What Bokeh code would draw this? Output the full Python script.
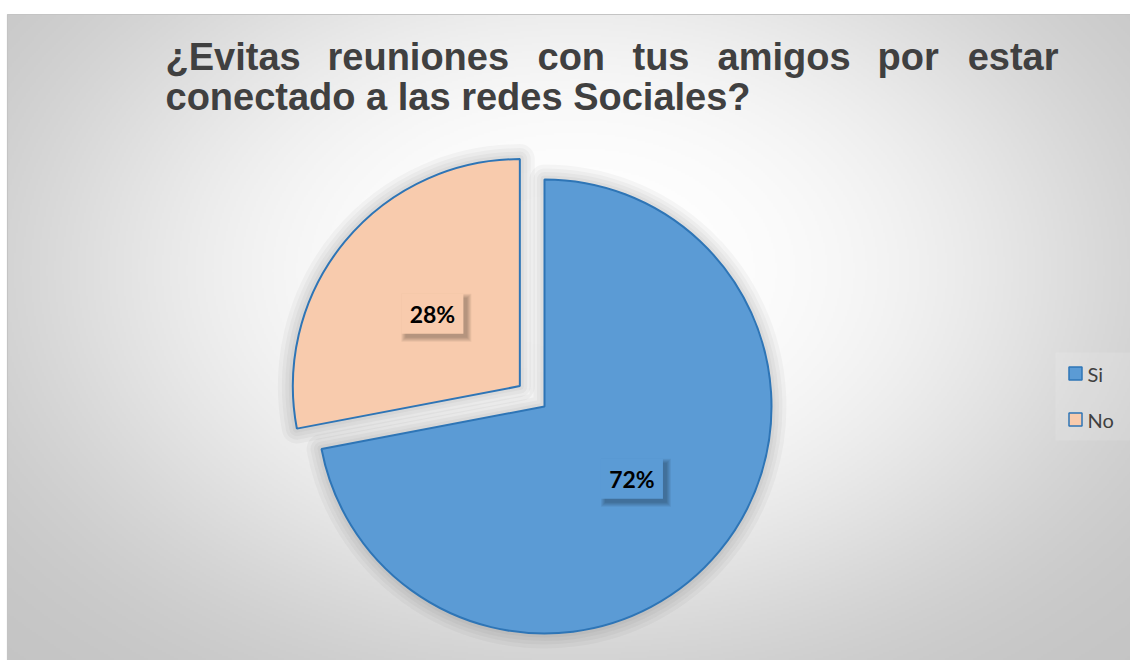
import numpy as np
from bokeh.plotting import figure
from bokeh.models import Range1d, ColumnDataSource
from bokeh.core.properties import value
from bokeh.embed import file_html
from bokeh.resources import INLINE

# ---------------- data ----------------
categories = ["Si", "No"]
values = [72, 28]
colors = ["#5B9BD5", "#F8CBAD"]
title_line1_words = ["¿Evitas", "reuniones", "con", "tus", "amigos", "por", "estar"]
title_line2 = "conectado a las redes Sociales?"

# ---------------- layout (screen px of the 1130x660 page) ----------------
W, H = 1130, 660
def Y(s):
    return 660 - s

p = figure(width=W, height=H, x_range=Range1d(0, W), y_range=Range1d(0, H),
           output_backend="svg", toolbar_location=None, min_border=0)
p.axis.visible = False
p.grid.visible = False
p.outline_line_color = None
p.background_fill_color = "white"
p.border_fill_color = "white"

# background radial gradient (chart area)
x0s, y0s, x1s, y1s = 7, 14, 1130, 660
step = 2
nx = (x1s - x0s) // step + 1
ny = (y1s - y0s) // step
xs = x0s + (np.arange(nx) + 0.5) * step
ys = y1s - (np.arange(ny) + 0.5) * step  # row 0 at bottom
XX, YY = np.meshgrid(xs, ys)
cxg, cyg, hx, hy = 575.0, 270.0, 570.0, 390.0
t = np.sqrt(((XX - cxg) / hx) ** 2 + ((YY - cyg) / hy) ** 2)
g = 255 - 60 * np.tanh(0.9 * t ** 2.5)
img = np.empty((ny, nx), dtype=np.uint32)
view = img.view(dtype=np.uint8).reshape((ny, nx, 4))
view[..., 0] = g.astype(np.uint8)
view[..., 1] = g.astype(np.uint8)
view[..., 2] = g.astype(np.uint8)
view[..., 3] = 255
p.image_rgba(image=[img], x=x0s, y=Y(y1s), dw=nx * step, dh=ny * step)
# chart border (left & top)
p.line([x0s, x0s, 1140], [Y(670), Y(y0s), Y(y0s)], line_color="#c4c4c4", line_width=1.2)

# ---------------- pie ----------------
vals = np.array(values, dtype=float)
frac = vals / vals.sum()
cum = np.cumsum(frac)
prev = cum - frac
a_start = np.pi / 2 - 2 * np.pi * prev
a_end = np.pi / 2 - 2 * np.pi * cum
bis = (a_start + a_end) / 2
explode = np.array([0.0, 32.0])
R = 227
pcx, pcy = 544, Y(406)
cxs = pcx + explode * np.cos(bis)
cys = pcy + explode * np.sin(bis)
labels = [f"{f * 100:.0f}%" for f in frac]
lx = cxs + 0.5 * R * np.cos(bis)
ly = cys + 0.5 * R * np.sin(bis)

src = ColumnDataSource(dict(x=cxs, y=cys, sa=a_start, ea=a_end, color=colors,
                            cat=categories, lx=lx, ly=ly, label=labels))

# soft shadow halo
for lw in [30, 22, 15, 8]:
    p.wedge(x="x", y="y", radius=R, start_angle="sa", end_angle="ea", direction="clock",
            source=src, fill_alpha=0, line_color="black", line_alpha=0.032,
            line_width=lw, line_join="round")

p.wedge(x="x", y="y", radius=R, start_angle="sa", end_angle="ea", direction="clock",
        source=src, fill_color="color", line_color="#2E75B6", line_width=2)

# data label boxes with soft shadow
bw, bh = 62, 40
for k in [8, 6, 4, 2, 0]:
    p.rect(x=lx + 4, y=ly - 4, width=bw + k, height=bh + k, fill_color="black",
           fill_alpha=0.06, line_color=None)
p.rect(x="lx", y="ly", width=bw, height=bh, source=src, fill_color="color", line_color=None)
p.text(x="lx", y="ly", text="label", source=src, text_align="center", text_baseline="middle",
       text_font=value("Lato"), text_font_style="bold", text_font_size="23px", text_color="black")

# ---------------- title ----------------
title_color = "#404040"
line1_x = [165, 327, 537, 632, 717, 877]
base1, base2 = Y(56), Y(96)
p.text(x=line1_x, y=[base1] * len(line1_x), text=title_line1_words[:-1], text_align="left",
       text_baseline="alphabetic", text_font=value("Liberation Sans"), text_font_style="bold",
       text_font_size="38px", text_color=title_color)
p.text(x=[1058], y=[base1], text=title_line1_words[-1:], text_align="right",
       text_baseline="alphabetic", text_font=value("Liberation Sans"), text_font_style="bold",
       text_font_size="38px", text_color=title_color)
p.text(x=[165], y=[base2], text=[title_line2], text_align="left", text_baseline="alphabetic",
       text_font=value("Liberation Sans"), text_font_style="bold", text_font_size="38px",
       text_color=title_color)

# ---------------- legend ----------------
p.rect(x=[1095], y=[Y(396)], width=80, height=88, fill_color="white", fill_alpha=0.12, line_color=None)
leg_y = [Y(373), Y(419)]
p.scatter(x=[1075, 1075], y=leg_y, marker="square", size=13, fill_color=colors,
          line_color="#2E75B6", line_width=1.5)
p.text(x=[1087, 1087], y=leg_y, text=categories, text_align="left", text_baseline="middle",
       text_font=value("Lato"), text_font_size="20px", text_color="#404040")

open("out.html", "w").write(file_html(p, INLINE))
